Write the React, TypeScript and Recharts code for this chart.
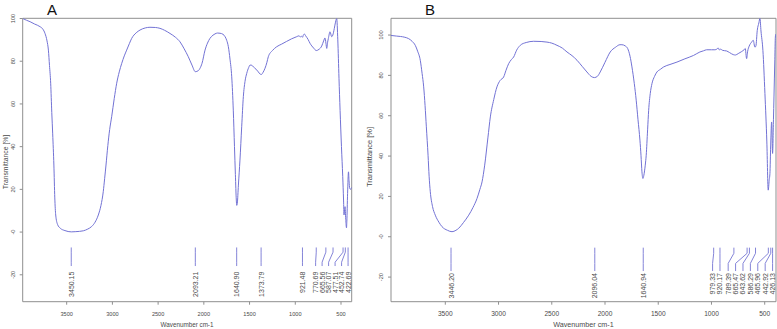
import React from 'react';
import { LineChart, Line, XAxis, YAxis, ReferenceLine, ReferenceDot, ReferenceArea } from 'recharts';

// ---- Spectrum A ----
const wavenumbersA = [
  3981, 3940, 3900, 3850, 3792, 3760, 3737, 3715, 3700, 3688, 3675, 3663, 3653, 3640, 3630, 3620,
  3600, 3570, 3519, 3450, 3400, 3318, 3270, 3227, 3190, 3154, 3125, 3100, 3085, 3070, 3050, 3030,
  3008, 2980, 2953, 2925, 2898, 2870, 2844, 2815, 2789, 2740, 2698, 2640, 2589, 2530, 2480, 2430,
  2370, 2310, 2261, 2215, 2170, 2130, 2093, 2060, 2042, 2020, 1987, 1960, 1933, 1900, 1878, 1850,
  1823, 1790, 1768, 1750, 1732, 1714, 1695, 1678, 1665, 1655, 1645, 1640, 1634, 1622, 1605, 1586,
  1568, 1550, 1531, 1510, 1495, 1475, 1459, 1430, 1404, 1385, 1370, 1355, 1331, 1310, 1295, 1250,
  1203, 1150, 1094, 1040, 984, 960, 945, 935, 921, 910, 900, 885, 860, 839, 800, 770,
  740, 711, 690, 675, 665, 656, 646, 638, 620, 602, 590, 573, 560, 547, 535, 522,
  510, 495, 481, 472, 467, 461, 456, 448, 440, 436, 428, 418, 412, 405, 395, 383,
];
const transmittanceA = [
  100, 99.2, 98.5, 97.4, 96.2, 95, 93, 89.5, 85.2, 78, 69.7, 56, 46, 31.4, 16, 8,
  3.6, 1.8, 0.7, 0.1, 0.2, 0.6, 1.4, 2.6, 4.6, 8, 12.5, 18.9, 25, 31.4, 40.5, 48,
  54, 62.5, 69.7, 75, 79, 82.5, 85.2, 88.2, 90.7, 93.3, 94.6, 95.6, 95.9, 95.8, 95.4, 94.5,
  93, 91.2, 89.1, 85.8, 82.1, 78.2, 75.1, 75.6, 76.7, 79, 85.2, 88.5, 90.7, 92.2, 92.8, 93.2,
  93.1, 92.6, 91.5, 89.8, 86.8, 81, 72.7, 57.1, 40, 27, 15, 12.5, 13.5, 22, 33.7, 49.3,
  63.4, 70.5, 74.3, 77, 78.2, 78.1, 77.4, 76.3, 75, 74, 73.8, 74.6, 76.7, 79.5, 82.1, 85,
  86.8, 88, 89.3, 90.5, 91.5, 91.9, 91.4, 91.8, 91.2, 92.4, 92.7, 91.8, 90.2, 88.4, 86.2, 85,
  85.6, 87.1, 89.5, 90.9, 88.5, 86, 89, 90.7, 93.8, 91.5, 92.2, 95.4, 98.3, 100, 90, 72,
  57, 40, 26, 15, 8, 10.5, 11.9, 6, 2, 5, 18, 28.2, 24, 20.5, 20, 21,
];
const peaksA = [3450.15, 2093.21, 1640.9, 1373.79, 921.48, 770.69, 665.56, 587.07, 477.51, 452.74, 422.69];
const peakTextA = ['3450.15', '2093.21', '1640.90', '1373.79', '921.48', '770.69', '665.56', '587.07', '477.51', '452.74', '422.69'];

// ---- Spectrum B ----
const wavenumbersB = [
  4010, 3960, 3922, 3880, 3844, 3810, 3782, 3760, 3735, 3718, 3703, 3690, 3678, 3662, 3652, 3641,
  3620, 3594, 3560, 3531, 3480, 3437, 3400, 3374, 3330, 3280, 3240, 3202, 3175, 3155, 3130, 3100,
  3077, 3045, 3015, 2985, 2952, 2930, 2905, 2880, 2858, 2830, 2796, 2740, 2670, 2600, 2545, 2500,
  2451, 2400, 2357, 2310, 2263, 2215, 2170, 2130, 2100, 2070, 2045, 2000, 1951, 1900, 1860, 1841,
  1810, 1787, 1765, 1747, 1725, 1707, 1690, 1672, 1662, 1653, 1644, 1635, 1622, 1613, 1600, 1590,
  1575, 1559, 1535, 1512, 1480, 1449, 1390, 1324, 1250, 1168, 1109, 1074, 1046, 1000, 968, 950,
  937, 925, 914, 895, 858, 830, 796, 775, 749, 720, 690, 683, 670, 660, 646, 623,
  608, 592, 583, 570, 555, 545, 535, 517, 498, 480, 467, 458, 451, 444, 435, 426,
  418, 413, 405, 400, 396,
];
const transmittanceB = [
  99.8, 99.5, 99.3, 98.9, 98.2, 96.8, 94.9, 92, 87.5, 81, 74.3, 65, 54.5, 40.4, 30, 22.3,
  15, 10.7, 7.2, 5, 3.2, 2.5, 3.2, 4.2, 7, 10.7, 14.5, 19, 23.5, 27.2, 35.5, 49,
  59.4, 68, 74.3, 77.5, 79.2, 82.5, 85.8, 87.8, 89.1, 92.5, 94.9, 96.3, 96.9, 96.8, 96.5, 96,
  94.9, 93.5, 91.6, 89.8, 87.5, 84.5, 81.7, 79.5, 78.9, 79.6, 81.7, 86.5, 91.6, 94, 95.2, 95.2,
  94.6, 93.3, 89.5, 84.2, 76, 67.7, 58, 47.9, 40.4, 32.2, 28.9, 30.5, 35.5, 40.4, 53, 62.7,
  71, 75.9, 79.5, 81.7, 83, 84.2, 85.4, 86.6, 88.2, 89.9, 91.6, 92.2, 92.7, 92.7, 92.7, 93,
  93.6, 92.6, 93, 92.4, 92.1, 91.3, 90.3, 90.1, 90.8, 91.7, 92.9, 93.3, 88.3, 92, 94.5, 96.5,
  97.4, 94, 94.5, 102.3, 106, 108.3, 102, 92.4, 71, 47, 23.1, 28, 31.4, 45, 56.9, 41.3,
  58, 69.3, 88, 99, 100.5,
];
const peaksB = [3446.2, 2096.04, 1640.94, 979.33, 920.17, 789.39, 665.47, 643.62, 586.29, 465.96, 442.92, 426.13];
const peakTextB = ['3446.20', '2096.04', '1640.94', '979.33', '920.17', '789.39', '665.47', '643.62', '586.29', '465.96', '442.92', '426.13'];

// ---- Shared axis ticks ----
const xTicks = [3500, 3000, 2500, 2000, 1500, 1000, 500];
const yTicks = [-20, 0, 20, 40, 60, 80, 100];
const yTickLabels = ['-20', '-0', '20', '40', '60', '80', '100'];

const FONT = '"Liberation Sans", Arial, Helvetica, sans-serif';
const CURVE = '#7272d4';
const LEADER = '#8484d8';
const FRAME = '#8f8f8f';
const TEXT = '#4a4a4a';
const H = 329;

// Push crowded peak labels toward higher wavenumber so they keep a minimum gap.
function spreadLabels(peaks: number[], gap: number): number[] {
  const order = peaks.map((_, i) => i).sort((a, b) => peaks[a] - peaks[b]);
  const out: number[] = new Array(peaks.length);
  let prev = -Infinity;
  for (const i of order) {
    const v = Math.max(peaks[i], prev + gap);
    out[i] = v;
    prev = v;
  }
  return out;
}

type Leader = { top: number; bend1: number; bend2: number; bottom: number; text: number };

type PanelProps = {
  wn: number[];
  t: number[];
  peaks: number[];
  peakText: string[];
  left: number;
  width: number;
  yAxisWidth: number;
  rightMargin: number;
  xDomain: [number, number];
  yDomain: [number, number];
  gap: number;
  leader: Leader;
  xTickFont: number;
  yTickFont: number;
};

function Panel(p: PanelProps) {
  const data = p.wn.map((w, i) => ({ wn: w, t: p.t[i] }));
  const labelWn = spreadLabels(p.peaks, p.gap);
  const L = p.leader;

  const XTick = (props: any) => {
    const { x, y, payload } = props;
    return (
      <text x={x} y={y} dy="0.72em" textAnchor="middle" fontSize={p.xTickFont} fill={TEXT} fontFamily={FONT}>
        {payload.value}
      </text>
    );
  };
  const YTick = (props: any) => {
    const { x, y, payload } = props;
    const idx = yTicks.indexOf(payload.value);
    return (
      <text
        x={x}
        y={y}
        transform={`rotate(-90 ${x} ${y})`}
        textAnchor="middle"
        dominantBaseline="central"
        fontSize={p.yTickFont}
        fill={TEXT}
        fontFamily={FONT}
      >
        {idx >= 0 ? yTickLabels[idx] : payload.value}
      </text>
    );
  };

  return (
    <div style={{ position: 'absolute', left: p.left, top: 0 }}>
      <LineChart
        width={p.width}
        height={H}
        data={data}
        margin={{ top: 18.3, right: p.rightMargin, bottom: 0, left: 0 }}
      >
        <XAxis
          type="number"
          dataKey="wn"
          domain={p.xDomain}
          reversed
          allowDataOverflow
          ticks={xTicks}
          interval={0}
          height={27.3}
          axisLine={false}
          tickSize={3}
          tickMargin={7}
          tickLine={{ stroke: FRAME }}
          tick={XTick}
        />
        <YAxis
          type="number"
          domain={p.yDomain}
          allowDataOverflow
          ticks={yTicks}
          interval={0}
          width={p.yAxisWidth}
          axisLine={false}
          tickSize={3}
          tickMargin={7}
          tickLine={{ stroke: FRAME }}
          tick={YTick}
        />
        <ReferenceArea
          x1={p.xDomain[0]}
          x2={p.xDomain[1]}
          y1={p.yDomain[0]}
          y2={p.yDomain[1]}
          fill="none"
          fillOpacity={0}
          stroke={FRAME}
          strokeWidth={1}
          ifOverflow="visible"
        />
        <Line
          type="monotone"
          dataKey="t"
          stroke={CURVE}
          strokeWidth={1}
          dot={false}
          activeDot={false}
          isAnimationActive={false}
        />
        {p.peaks.map((pk, i) => (
          <ReferenceLine
            key={`a${i}`}
            segment={[{ x: pk, y: L.top }, { x: pk, y: L.bend1 }]}
            stroke={LEADER}
            strokeWidth={1}
            ifOverflow="visible"
          />
        ))}
        {p.peaks.map((pk, i) => (
          <ReferenceLine
            key={`b${i}`}
            segment={[{ x: pk, y: L.bend1 }, { x: labelWn[i], y: L.bend2 }]}
            stroke={LEADER}
            strokeWidth={1}
            ifOverflow="visible"
          />
        ))}
        {p.peaks.map((pk, i) => (
          <ReferenceLine
            key={`c${i}`}
            segment={[{ x: labelWn[i], y: L.bend2 }, { x: labelWn[i], y: L.bottom }]}
            stroke={LEADER}
            strokeWidth={1}
            ifOverflow="visible"
          />
        ))}
        {p.peaks.map((pk, i) => (
          <ReferenceDot
            key={`d${i}`}
            x={labelWn[i]}
            y={L.text}
            r={0}
            ifOverflow="visible"
            shape={(sp: any) => (
              <text
                x={sp.cx}
                y={sp.cy}
                transform={`rotate(-90 ${sp.cx} ${sp.cy})`}
                textAnchor="end"
                dominantBaseline="central"
                fontSize={7}
                fill={TEXT}
                fontFamily={FONT}
              >
                {p.peakText[i]}
              </text>
            )}
          />
        ))}
      </LineChart>
    </div>
  );
}

export default function App() {
  return (
    <div style={{ position: 'absolute', left: 0, top: 0, width: 777, height: H, background: '#fff', overflow: 'hidden' }}>
      <Panel
        wn={wavenumbersA}
        t={transmittanceA}
        peaks={peaksA}
        peakText={peakTextA}
        left={0}
        width={360}
        yAxisWidth={22.7}
        rightMargin={8.3}
        xDomain={[383, 3981]}
        yDomain={[-32.6, 100.1]}
        gap={71}
        leader={{ top: -7.2, bend1: -9.4, bend2: -14.1, bottom: -15.9, text: -18.5 }}
        xTickFont={5.6}
        yTickFont={5.6}
      />
      <Panel
        wn={wavenumbersB}
        t={transmittanceB}
        peaks={peaksB}
        peakText={peakTextB}
        left={355}
        width={422}
        yAxisWidth={36}
        rightMargin={1}
        xDomain={[394, 4010]}
        yDomain={[-32.2, 108.3]}
        gap={69.5}
        leader={{ top: -5.4, bend1: -8.2, bend2: -13.2, bottom: -17.0, text: -18.0 }}
        xTickFont={6.6}
        yTickFont={5.6}
      />
      <svg width={777} height={H} style={{ position: 'absolute', left: 0, top: 0, pointerEvents: 'none' }}>
        <g fontFamily={FONT}>
          <text x={52} y={14.5} fontSize={15} textAnchor="middle" fill="#111">A</text>
          <text x={430} y={14.5} fontSize={15} textAnchor="middle" fill="#111">B</text>
          <text x={187} y={327} fontSize={6.3} textAnchor="middle" fill={TEXT}>Wavenumber cm-1</text>
          <text x={583.5} y={327} fontSize={7.2} textAnchor="middle" fill={TEXT}>Wavenumber cm-1</text>
          <text x={5} y={162} fontSize={6.8} textAnchor="middle" dominantBaseline="central" fill={TEXT} transform="rotate(-90 5 162)">Transmittance [%]</text>
          <text x={369} y={157} fontSize={7.5} textAnchor="middle" dominantBaseline="central" fill={TEXT} transform="rotate(-90 369 157)">Transmittance [%]</text>
        </g>
      </svg>
    </div>
  );
}
